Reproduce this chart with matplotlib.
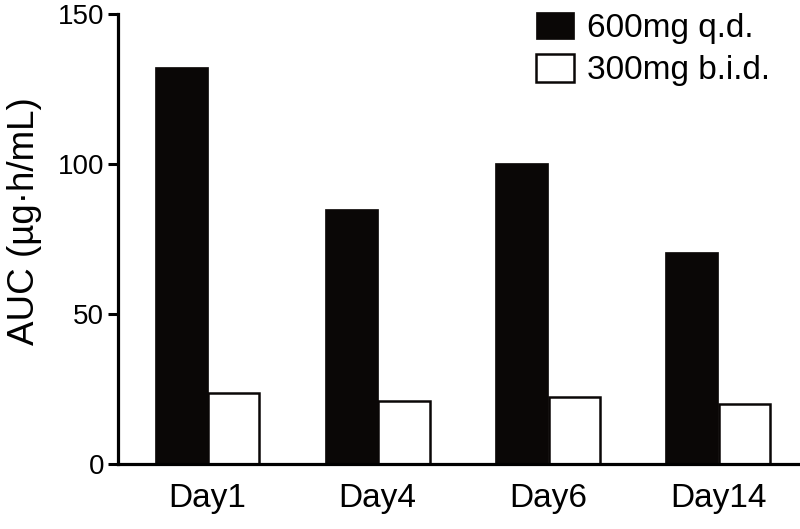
import numpy as np
import matplotlib
matplotlib.use("Agg")
import matplotlib.pyplot as plt

# данные
days = ["Day1", "Day4", "Day6", "Day14"]
auc_qd = [132.2, 85.1, 100.4, 70.9]     # 600mg q.d.
auc_bid = [23.8, 21.2, 22.5, 20.2]      # 300mg b.i.d.
y_ticks = [0, 50, 100, 150]

plt.rcParams["font.family"] = ["Liberation Sans", "DejaVu Sans"]

fig = plt.figure(figsize=(8, 5.29), dpi=100)
ax = fig.add_axes([0.1475, 0.122, 0.85, 0.8515])

x = np.arange(len(days))
w = 0.31
ax.bar(x - w / 2, auc_qd, width=w, color="#0a0706", edgecolor="#0a0706",
       linewidth=0.5, label="600mg q.d.")
ax.bar(x + w / 2, auc_bid, width=w * 0.97, color="white", edgecolor="#0a0706",
       linewidth=1.8, label="300mg b.i.d.")

ax.set_xlim(-0.526, 3.47)
ax.set_ylim(0, 150)
ax.set_yticks(y_ticks)
ax.set_xticks(x)
ax.set_xticklabels(days, fontsize=24)
ax.tick_params(axis="x", length=0, pad=13)
ax.tick_params(axis="y", labelsize=20, length=7, width=2.2, pad=3)

ax.spines["top"].set_visible(False)
ax.spines["right"].set_visible(False)
for s in ["left", "bottom"]:
    ax.spines[s].set_linewidth(2.3)

ax.set_ylabel("AUC (µg·h/mL)", fontsize=26.5)
ax.yaxis.set_label_coords(-0.112, 0.54)

ax.legend(loc="upper right", bbox_to_anchor=(0.979, 1.035), frameon=False,
          fontsize=24, handlelength=1.15, handleheight=0.9,
          handletextpad=0.4, labelspacing=0.3, borderaxespad=0)

fig.savefig("out.png", dpi=100)
